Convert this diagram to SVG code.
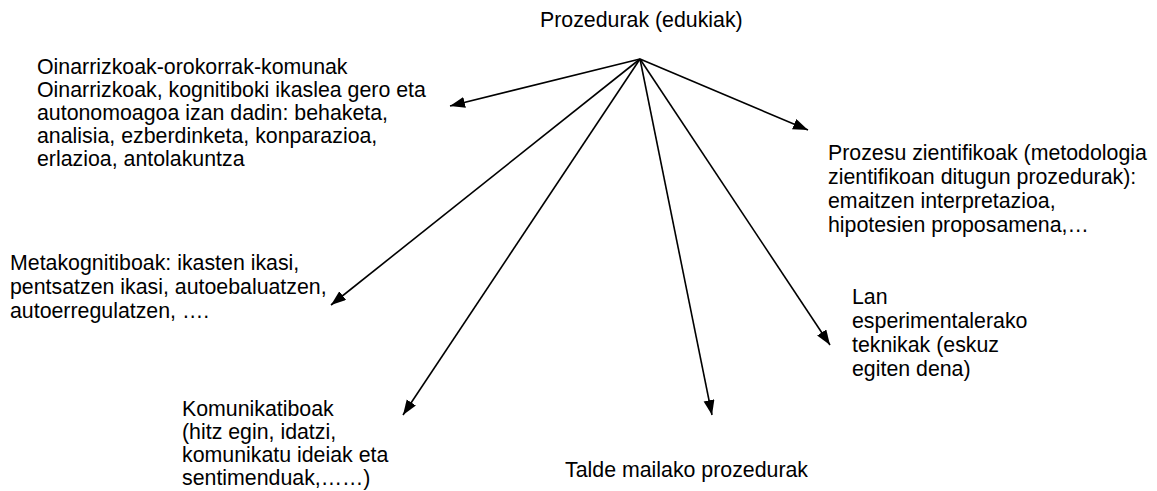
<svg xmlns="http://www.w3.org/2000/svg" width="1157" height="491" viewBox="0 0 1157 491">
<style>
text{font-family:"Liberation Sans",Arial,sans-serif;font-size:21.33px;fill:#000}
.c line{stroke:#000;stroke-width:1.6;marker-end:url(#ah)}
</style>
<defs>
<marker id="ah" markerUnits="userSpaceOnUse" markerWidth="16" markerHeight="12" refX="15" refY="5.5" orient="auto">
<path d="M0,0 L15,5.5 L0,11 z" fill="#000"/>
</marker>
</defs>
<rect width="1157" height="491" fill="#fff"/>
<g id="root"><text x="540" y="27">Prozedurak (edukiak)</text></g>
<g id="oinarrizkoak">
<text x="37" y="74">Oinarrizkoak-orokorrak-komunak</text>
<text x="37" y="97">Oinarrizkoak, kognitiboki ikaslea gero eta</text>
<text x="37" y="120">autonomoagoa izan dadin: behaketa,</text>
<text x="37" y="143">analisia, ezberdinketa, konparazioa,</text>
<text x="37" y="166">erlazioa, antolakuntza</text>
</g>
<g id="prozesu">
<text x="828" y="160">Prozesu zientifikoak (metodologia</text>
<text x="828" y="184">zientifikoan ditugun prozedurak):</text>
<text x="828" y="208">emaitzen interpretazioa,</text>
<text x="828" y="232">hipotesien proposamena,…</text>
</g>
<g id="metakognitiboak">
<text x="10" y="270">Metakognitiboak: ikasten ikasi,</text>
<text x="10" y="294">pentsatzen ikasi, autoebaluatzen,</text>
<text x="10" y="318">autoerregulatzen, ….</text>
</g>
<g id="lan">
<text x="852" y="304">Lan</text>
<text x="852" y="328">esperimentalerako</text>
<text x="852" y="352">teknikak (eskuz</text>
<text x="852" y="376">egiten dena)</text>
</g>
<g id="komunikatiboak">
<text x="182" y="416">Komunikatiboak</text>
<text x="182" y="439">(hitz egin, idatzi,</text>
<text x="182" y="462">komunikatu ideiak eta</text>
<text x="182" y="485">sentimenduak,……)</text>
</g>
<g id="talde"><text x="565" y="477">Talde mailako prozedurak</text></g>
<g class="c" id="connectors">
<line x1="640" y1="59" x2="450" y2="106"/>
<line x1="640" y1="59" x2="808" y2="130"/>
<line x1="640" y1="59" x2="331" y2="305"/>
<line x1="640" y1="59" x2="830" y2="345"/>
<line x1="640" y1="59" x2="403" y2="415"/>
<line x1="640" y1="59" x2="712" y2="415"/>
</g>
</svg>
